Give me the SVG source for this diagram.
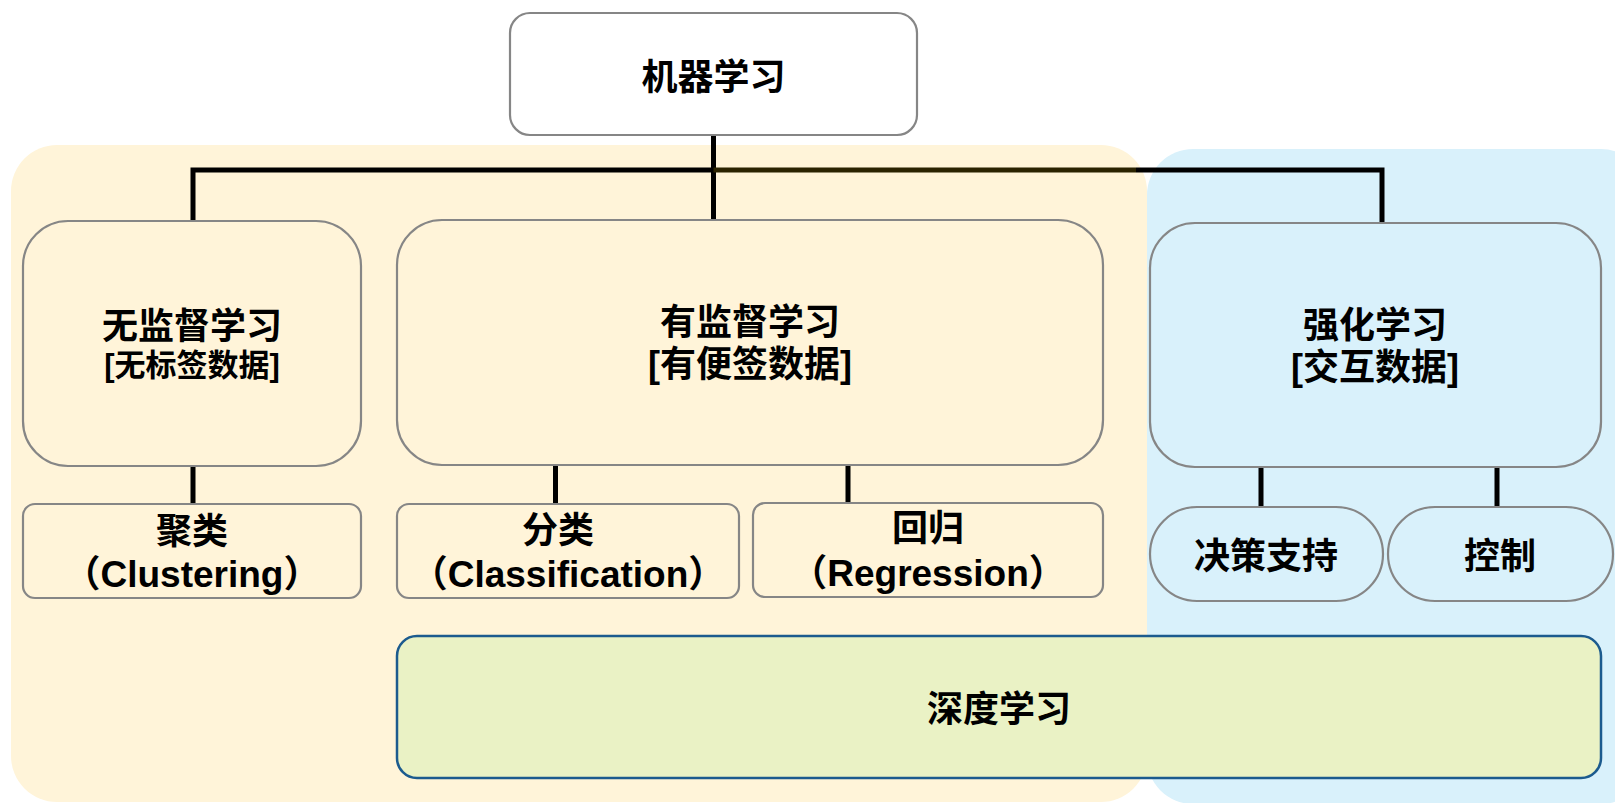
<svg xmlns="http://www.w3.org/2000/svg" width="1615" height="803" viewBox="0 0 1615 803">
<style>
.t{font-family:"Liberation Sans","Noto Sans CJK SC",sans-serif;font-weight:bold;font-size:36px;fill:#000;text-anchor:middle}
.s{font-size:31px}
.l{font-size:37px}
.box{stroke:#868686;stroke-width:2.2}
.y{fill:#FFF4D9}
.b{fill:#D9F1FB}
.w{fill:#FFFFFF}
.ln{stroke:#000;stroke-width:5;fill:none}
</style>
<g id="backgrounds">
<rect x="11" y="145" width="1136" height="657" rx="46" fill="#FFF4D9"/>
<rect x="1147" y="149" width="500" height="655" rx="46" fill="#D9F1FB"/>
</g>
<g id="connectors">
<path class="ln" d="M713.5 135 V220 M193 170 H713.5 M193 167.5 V221"/>
<path d="M713.5 170 H1136" stroke="#2B2300" stroke-width="5"/>
<path class="ln" d="M1136 170 H1382 M1382 167.5 V223"/>
<path class="ln" d="M193 466 V504 M555.5 465 V504 M848 465 V503 M1261 467 V507 M1497 467 V507"/>
</g>
<g id="n-ml"><rect class="box w" x="510" y="13" width="407" height="122" rx="20"/><text class="t" x="713.5" y="90">机器学习</text></g>
<g id="n-unsup"><rect class="box y" x="23" y="221" width="338" height="245" rx="45"/><text class="t" x="192" y="339">无监督学习</text><text class="t s" x="192" y="376">[无标签数据]</text></g>
<g id="n-sup"><rect class="box y" x="397" y="220" width="706" height="245" rx="45"/><text class="t" x="750" y="335">有监督学习</text><text class="t" x="750" y="377">[有便签数据]</text></g>
<g id="n-rl"><rect class="box b" x="1150" y="223" width="451" height="244" rx="45"/><text class="t" x="1375" y="338">强化学习</text><text class="t" x="1375" y="380">[交互数据]</text></g>
<g id="n-cluster"><rect class="box y" x="23" y="504" width="338" height="94" rx="12"/><text class="t" x="192" y="544">聚类</text><text class="t l" x="192" y="587">（Clustering）</text></g>
<g id="n-class"><rect class="box y" x="397" y="504" width="342" height="94" rx="12"/><text class="t" x="558" y="543">分类</text><text class="t l" x="568" y="587">（Classification）</text></g>
<g id="n-reg"><rect class="box y" x="753" y="503" width="350" height="94" rx="12"/><text class="t" x="928" y="541">回归</text><text class="t l" x="928" y="586">（Regression）</text></g>
<g id="n-dec"><rect class="box b" x="1150" y="507" width="233" height="94" rx="47"/><text class="t" x="1266" y="569">决策支持</text></g>
<g id="n-ctl"><rect class="box b" x="1388" y="507" width="225" height="94" rx="47"/><text class="t" x="1500" y="569">控制</text></g>
<g id="n-dl"><rect x="397" y="636" width="1204" height="142" rx="20" fill="#EAF2C5" stroke="#1C5B8E" stroke-width="2.5"/><text class="t" x="999" y="722">深度学习</text></g>
</svg>
